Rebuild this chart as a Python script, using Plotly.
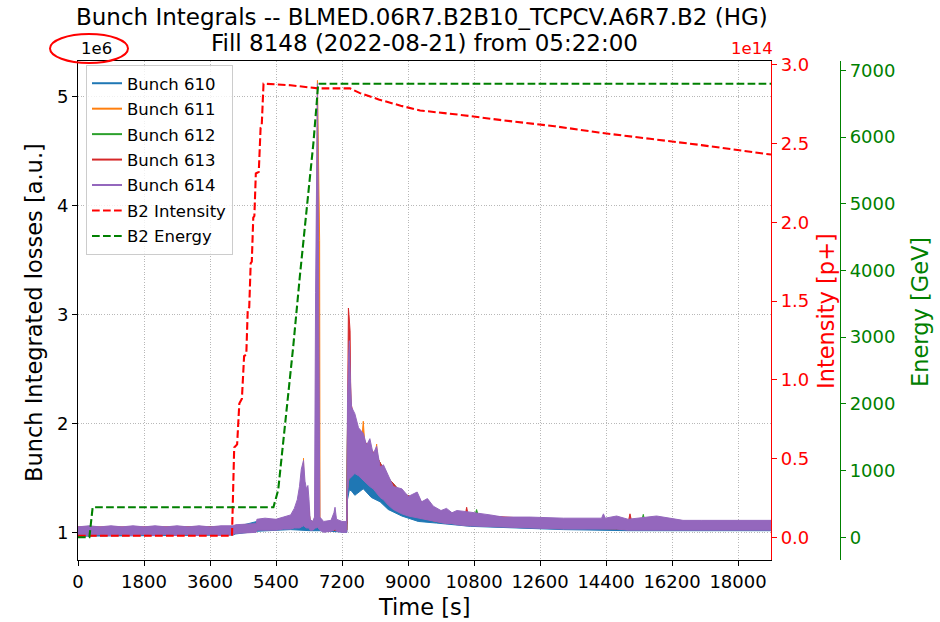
import plotly.graph_objects as go

# ---------------- data ----------------
X_TICKS = [0, 1800, 3600, 5400, 7200, 9000, 10800, 12600, 14400, 16200, 18000]
Y1_TICKS = [1, 2, 3, 4, 5]
Y2_TICKS = [0.0, 0.5, 1.0, 1.5, 2.0, 2.5, 3.0]
Y3_TICKS = [0, 1000, 2000, 3000, 4000, 5000, 6000, 7000]

# B2 intensity [1e14 p+]
INT_T = [0, 4200, 4260, 4340, 4400, 4470, 4530, 4590, 4630, 4670, 4710, 4740, 4780, 4810,
         4850, 4930, 4980, 5010, 5060, 5800, 6550, 7420, 7690, 8200, 8800, 9330, 10500,
         11500, 13000, 14200, 15600, 17000, 18900]
INT_V = [0.01, 0.01, 0.57, 0.59, 0.85, 0.88, 1.15, 1.16, 1.45, 1.46, 1.74, 1.75, 2.03, 2.04,
         2.31, 2.32, 2.60, 2.61, 2.88, 2.87, 2.85, 2.85, 2.82, 2.78, 2.74, 2.71, 2.68,
         2.65, 2.61, 2.57, 2.53, 2.49, 2.43]

# B2 energy [GeV]
EN_T = [0, 310, 400, 5330, 5460, 5690, 5870, 6050, 6240, 6420, 6510, 6550, 18900]
EN_V = [0, 0, 450, 450, 710, 1860, 2860, 3910, 4910, 5910, 6510, 6800, 6800]

# Bunch integrated losses [1e6 a.u.] : lower / upper envelope of the noisy band
B610_T = [0, 4230, 4300, 4880, 5800, 6330, 6600, 7330, 7350, 7400, 7460, 7550, 7780, 8000,
          8240, 8460, 8830, 9280, 9780, 10700, 11600, 13240, 15000, 16500, 18900]
B610_LO = [0.965, 0.975, 0.985, 1.01, 1.025, 1.015, 1.015, 1.00, 1.30, 1.39, 1.38, 1.34, 1.40,
           1.32, 1.28, 1.21, 1.15, 1.10, 1.085, 1.055, 1.045, 1.025, 1.015, 1.015, 1.015]
B610_HI = [1.03, 1.04, 1.05, 1.10, 1.12, 1.08, 1.08, 1.08, 1.90, 2.30, 1.90, 1.80, 1.70, 1.60,
           1.50, 1.40, 1.30, 1.22, 1.15, 1.12, 1.10, 1.09, 1.08, 1.08, 1.08]

B611_T = [0, 4230, 4300, 4860, 4880, 5800, 5980, 6090, 6130, 6150, 6170, 6230, 6300, 6330,
          6450, 6470, 6530, 6560, 6590, 6600, 6700, 7330, 7350, 7400, 7460, 7550, 7740,
          7780, 7820, 8100, 8145, 8190, 8460, 8830, 9280, 9780, 10700, 13240, 18900]
B611_LO = [0.98, 0.99, 1.00, 1.01, 1.03, 1.04, 1.06, 1.09, 1.10, 1.11, 1.10, 1.07, 1.05, 1.03,
           1.04, 1.05, 1.11, 1.10, 1.08, 1.03, 1.02, 1.02, 1.40, 1.52, 1.53, 1.56, 1.51,
           1.50, 1.49, 1.39, 1.38, 1.36, 1.27, 1.19, 1.14, 1.10, 1.07, 1.04, 1.03]
B611_HI = [1.04, 1.05, 1.06, 1.07, 1.10, 1.12, 1.20, 1.30, 1.30, 1.68, 1.30, 1.30, 1.20, 1.10,
           1.10, 1.12, 5.15, 4.50, 3.68, 1.10, 1.08, 1.08, 2.00, 2.60, 2.10, 1.98, 1.85,
           2.02, 1.82, 1.70, 1.81, 1.58, 1.50, 1.35, 1.30, 1.18, 1.15, 1.11, 1.09]

B612_T = [0, 4230, 4300, 4860, 4880, 5800, 5980, 6090, 6150, 6230, 6300, 6330, 6450, 6530,
          6595, 6700, 7330, 7350, 7400, 7460, 7550, 7780, 8145, 8460, 8830, 9280, 9780,
          10700, 10820, 10870, 10920, 13240, 15370, 15417, 15460, 18900]
B612_LO = [0.98, 0.99, 1.00, 1.01, 1.03, 1.04, 1.06, 1.09, 1.11, 1.07, 1.05, 1.03, 1.04, 1.11,
           1.03, 1.02, 1.02, 1.40, 1.52, 1.53, 1.56, 1.50, 1.38, 1.27, 1.19, 1.14, 1.10,
           1.07, 1.065, 1.065, 1.065, 1.04, 1.03, 1.03, 1.03, 1.03]
B612_HI = [1.04, 1.05, 1.06, 1.07, 1.10, 1.12, 1.20, 1.30, 1.30, 1.30, 1.20, 1.10, 1.10, 1.12,
           1.10, 1.08, 1.08, 2.00, 2.50, 2.00, 1.95, 1.80, 1.70, 1.50, 1.36, 1.30, 1.18,
           1.15, 1.15, 1.21, 1.15, 1.10, 1.10, 1.165, 1.10, 1.09]

B613_T = [0, 4230, 4300, 4860, 4880, 5800, 5980, 6090, 6150, 6230, 6300, 6330, 6450, 6530,
          6595, 6700, 7330, 7350, 7375, 7390, 7420, 7440, 7550, 7780, 8145, 8460, 8830,
          9280, 9780, 10560, 10600, 10640, 13240, 15010, 15054, 15100, 18900]
B613_LO = [0.98, 0.99, 1.00, 1.01, 1.03, 1.04, 1.06, 1.09, 1.11, 1.07, 1.05, 1.03, 1.04, 1.11,
           1.03, 1.02, 1.02, 1.40, 1.50, 1.52, 1.52, 1.53, 1.56, 1.50, 1.38, 1.27, 1.19,
           1.14, 1.10, 1.07, 1.07, 1.07, 1.04, 1.03, 1.03, 1.03, 1.03]
B613_HI = [1.05, 1.05, 1.06, 1.07, 1.10, 1.12, 1.20, 1.30, 1.30, 1.30, 1.20, 1.10, 1.10, 1.12,
           1.10, 1.08, 1.08, 2.20, 3.06, 3.00, 2.85, 2.20, 2.00, 1.85, 1.70, 1.50, 1.36,
           1.30, 1.18, 1.16, 1.23, 1.16, 1.11, 1.10, 1.17, 1.10, 1.09]

B614_T = [0, 300, 600, 900, 1200, 1500, 1800, 2100, 2400, 2700, 3000, 3300, 3600, 3900, 4230,
          4300, 4860, 4880, 5100, 5400, 5600, 5800, 5900, 5980, 6040, 6090, 6150, 6190, 6230,
          6270, 6300, 6330, 6400, 6450, 6480, 6510, 6530, 6550, 6570, 6595, 6700, 6900, 6980,
          7010, 7050, 7200, 7330, 7350, 7380, 7400, 7430, 7460, 7550, 7650, 7780, 7870, 7960,
          8050, 8145, 8240, 8330, 8460, 8600, 8830, 9010, 9250, 9370, 9530, 9690, 9900, 10050,
          10200, 10330, 10600, 10870, 11240, 11600, 12330, 13240, 14280, 14330, 14380, 14690,
          15000, 15780, 16500, 17000, 18000, 18900]
B614_LO = [0.97, 0.97, 0.98, 0.97, 0.98, 0.97, 0.98, 0.97, 0.98, 0.97, 0.98, 0.97, 0.98, 0.97,
           0.98, 0.99, 1.00, 1.02, 1.02, 1.02, 1.03, 1.03, 1.04, 1.04, 1.04, 1.05, 1.06, 1.05,
           1.04, 1.04, 1.04, 1.02, 1.02, 1.03, 1.04, 1.04, 1.05, 1.04, 1.04, 1.02, 1.00, 1.01,
           1.02, 1.03, 1.01, 1.00, 1.00, 1.35, 1.48, 1.50, 1.50, 1.51, 1.54, 1.52, 1.48, 1.45,
           1.42, 1.40, 1.36, 1.32, 1.30, 1.25, 1.21, 1.17, 1.15, 1.13, 1.12, 1.11, 1.10, 1.09,
           1.08, 1.08, 1.07, 1.06, 1.06, 1.05, 1.05, 1.04, 1.03, 1.03, 1.03, 1.03, 1.03, 1.02,
           1.02, 1.02, 1.02, 1.02, 1.02]
B614_HI = [1.05, 1.06, 1.05, 1.06, 1.05, 1.06, 1.05, 1.06, 1.05, 1.06, 1.05, 1.06, 1.05, 1.06,
           1.06, 1.07, 1.08, 1.12, 1.13, 1.12, 1.14, 1.16, 1.22, 1.30, 1.42, 1.58, 1.66, 1.47,
           1.40, 1.43, 1.30, 1.12, 1.10, 1.14, 3.20, 4.60, 5.12, 4.20, 3.00, 1.14, 1.10, 1.11,
           1.18, 1.23, 1.12, 1.10, 1.10, 2.20, 2.62, 2.76, 2.40, 2.15, 2.09, 1.96, 1.91, 1.80,
           1.86, 1.72, 1.79, 1.60, 1.62, 1.53, 1.42, 1.40, 1.33, 1.37, 1.28, 1.31, 1.24, 1.20,
           1.22, 1.18, 1.20, 1.19, 1.18, 1.16, 1.14, 1.14, 1.13, 1.13, 1.17, 1.13, 1.15, 1.12,
           1.15, 1.11, 1.11, 1.11, 1.11]

BUNCHES = [
    ("Bunch 610", "#1f77b4", B610_T, B610_LO, B610_HI),
    ("Bunch 611", "#ff7f0e", B611_T, B611_LO, B611_HI),
    ("Bunch 612", "#2ca02c", B612_T, B612_LO, B612_HI),
    ("Bunch 613", "#d62728", B613_T, B613_LO, B613_HI),
    ("Bunch 614", "#9467bd", B614_T, B614_LO, B614_HI),
]

RED = "#ff0000"
GREEN = "#008000"
FONT = "DejaVu Sans"
W, H = 940, 622
L, R, T, B = 78, 771, 61, 560  # plot area in px


def px(x):
    return x / W


def py(y):
    return 1 - y / H


fig = go.Figure()

# bands (drawn first, no legend)
for name, col, t, lo, hi in BUNCHES:
    fig.add_trace(go.Scatter(
        x=list(t) + list(t)[::-1], y=list(hi) + list(lo)[::-1],
        mode="lines", fill="toself", fillcolor=col,
        line=dict(color=col, width=1), showlegend=False, hoverinfo="skip",
        legendgroup=name, xaxis="x", yaxis="y"))

# legend entries for the bunches
for name, col, t, lo, hi in BUNCHES:
    fig.add_trace(go.Scatter(x=[None], y=[None], mode="lines", name=name,
                             line=dict(color=col, width=2), legendgroup=name,
                             xaxis="x", yaxis="y"))

fig.add_trace(go.Scatter(x=INT_T, y=INT_V, mode="lines", name="B2 Intensity",
                         legendgroup="int",
                         line=dict(color=RED, width=2.1, dash="7.7px,3.3px"),
                         xaxis="x", yaxis="y2"))
fig.add_trace(go.Scatter(x=EN_T, y=EN_V, mode="lines", name="B2 Energy",
                         legendgroup="en",
                         line=dict(color=GREEN, width=2.1, dash="7.7px,3.3px"),
                         xaxis="x", yaxis="y3"))

axis_common = dict(ticks="outside", ticklen=5, tickwidth=1.1, showline=True,
                   linewidth=1.1, automargin=False, zeroline=False)
grid_common = dict(showgrid=True, gridcolor="#b8b8b8", griddash="1px,1.6px", gridwidth=0.8)

fig.update_layout(
    width=W, height=H, template="none",
    margin=dict(l=0, r=0, t=0, b=0, pad=0),
    paper_bgcolor="white", plot_bgcolor="white",
    font=dict(family=FONT, size=18, color="black"),
    showlegend=True,
    legend=dict(x=px(86), y=py(65), xanchor="left", yanchor="top",
                bgcolor="rgba(255,255,255,0.8)", bordercolor="#cccccc",
                borderwidth=1, font=dict(size=16.5, family=FONT),
                tracegroupgap=1, traceorder="grouped"),
    xaxis=dict(domain=[px(L), px(R)], range=[0, 18900], tickvals=X_TICKS,
               ticktext=[str(v) for v in X_TICKS], linecolor="black", tickcolor="black",
               mirror=True, tickfont=dict(size=18), **grid_common, **axis_common),
    yaxis=dict(domain=[py(B), py(T)], range=[0.746, 5.328], tickvals=Y1_TICKS,
               ticktext=[str(v) for v in Y1_TICKS], linecolor="black", tickcolor="black",
               tickfont=dict(size=18), **grid_common, **axis_common),
    yaxis2=dict(overlaying="y", side="right", anchor="x", range=[-0.144, 3.024],
                tickvals=Y2_TICKS, ticktext=["%.1f" % v for v in Y2_TICKS],
                linecolor=RED, tickcolor=RED, tickfont=dict(size=18, color=RED),
                showgrid=False, **axis_common),
    yaxis3=dict(overlaying="y", side="right", anchor="free", position=px(840),
                range=[-340, 7140], tickvals=Y3_TICKS, ticktext=[str(v) for v in Y3_TICKS],
                linecolor=GREEN, tickcolor=GREEN, tickfont=dict(size=18, color=GREEN),
                showgrid=False, **axis_common),
)

ann = [
    dict(text="Bunch Integrals -- BLMED.06R7.B2B10_TCPCV.A6R7.B2 (HG)", x=px(422), y=py(17),
         font=dict(size=23, color="black")),
    dict(text="Fill 8148 (2022-08-21) from 05:22:00", x=px(424.5), y=py(43),
         font=dict(size=23, color="black")),
    dict(text="Time [s]", x=px(424.5), y=py(607), font=dict(size=22.5, color="black")),
    dict(text="Bunch Integrated losses [a.u.]", x=px(34), y=py(313), textangle=-90,
         font=dict(size=22.5, color="black")),
    dict(text="Intensity [p+]", x=px(826), y=py(311), textangle=-90,
         font=dict(size=22.5, color=RED)),
    dict(text="Energy [GeV]", x=px(920), y=py(312), textangle=-90,
         font=dict(size=22.5, color=GREEN)),
    dict(text="1e6", x=px(79), y=py(48), xanchor="left", font=dict(size=16.5, color="black")),
    dict(text="1e14", x=px(775), y=py(48), xanchor="right", font=dict(size=16.5, color=RED)),
]
for a in ann:
    a.setdefault("xanchor", "center")
    a.update(xref="paper", yref="paper", yanchor="middle", showarrow=False,
             font=dict(family=FONT, **a["font"]))
    fig.add_annotation(**a)

fig.add_shape(type="circle", xref="paper", yref="paper", x0=px(50), x1=px(128),
              y0=py(63), y1=py(34), line=dict(color=RED, width=2))

fig.write_html("out.html")
